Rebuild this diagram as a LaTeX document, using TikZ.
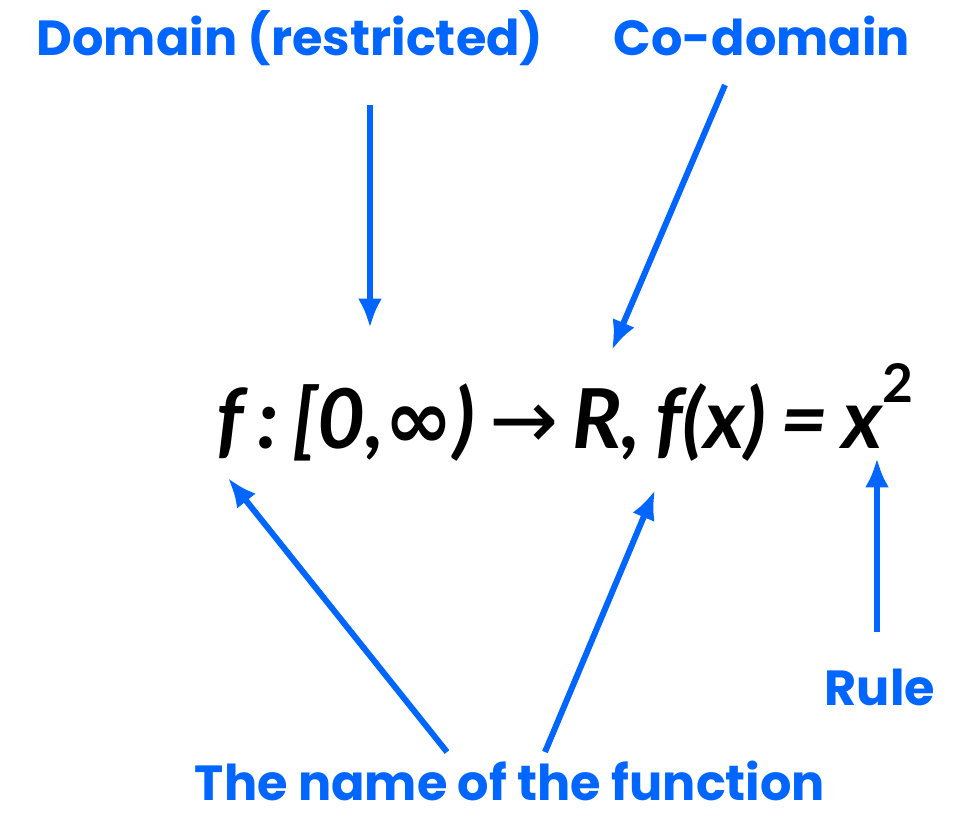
\documentclass[tikz,border=0pt]{standalone}
\usepackage{fontspec}
\setmainfont{Lato}
\newfontfamily\lblfont{Poppins}
\newfontfamily\symfont{DejaVu Sans}
\usetikzlibrary{arrows.meta}
\definecolor{lblue}{RGB}{0,102,255}
\tikzset{
  lbl/.style={text=lblue, font=\lblfont\fontsize{37}{40}\selectfont\bfseries, inner sep=0pt, anchor=base},
  ptr/.style={draw=lblue, line width=4.5pt, -{Latex[length=22pt,width=18pt]}},
  formula/.style={text=black, font=\fontsize{62}{70}\selectfont\bfseries\itshape, inner sep=0pt}
}
\begin{document}
\begin{tikzpicture}[x=0.75pt,y=-0.75pt]
\useasboundingbox (0,0) rectangle (965,822);
\node[lbl] (dom) at (290,55) {Domain (restricted)};
\node[lbl] (cod) at (762,55) {Co-domain};
\node[lbl] (rule) at (880,705) {Rule};
\node[lbl] (name) at (510,800) {The name of the function};
\node[formula, anchor=base west] (f) at (216,448) {f\,:\,[0,{\symfont\upshape ∞})\,{\symfont\upshape\mdseries →}\,R,\,f(x)\,=\,x\raisebox{0.55em}{\fontsize{40}{40}\selectfont\upshape 2}};
\coordinate (d1) at (370,105); \coordinate (d2) at (370,328);
\coordinate (c1) at (725,85); \coordinate (c2) at (612,350);
\coordinate (r1) at (877,632); \coordinate (r2) at (877,458);
\coordinate (n1) at (447,752); \coordinate (n2) at (228,478);
\coordinate (m1) at (545,752); \coordinate (m2) at (655,490);
\draw[ptr] (d1) -- (d2);
\draw[ptr] (c1) -- (c2);
\draw[ptr] (r1) -- (r2);
\draw[ptr] (n1) -- (n2);
\draw[ptr] (m1) -- (m2);
\end{tikzpicture}
\end{document}
